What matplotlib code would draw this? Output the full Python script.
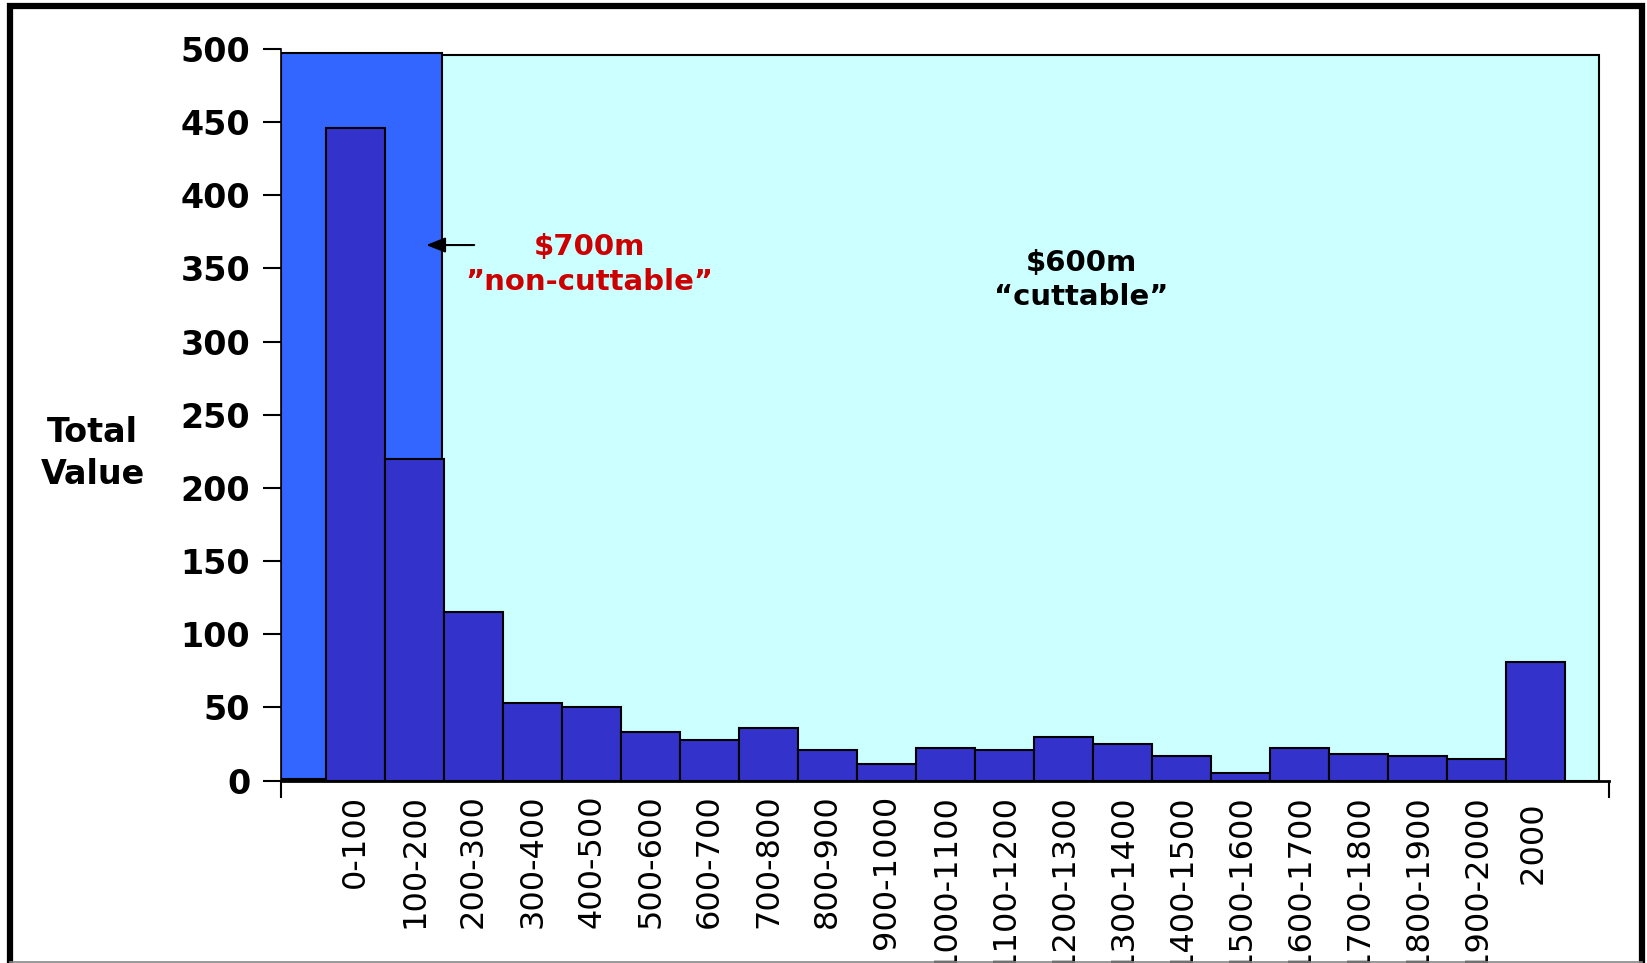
import numpy as np
import matplotlib
matplotlib.use("Agg")
import matplotlib.pyplot as plt
from matplotlib.patches import Rectangle
from matplotlib.lines import Line2D

# Total value per size band
bands = ["0-100", "100-200", "200-300", "300-400", "400-500", "500-600",
         "600-700", "700-800", "800-900", "900-1000", "1000-1100", "1100-1200",
         "1200-1300", "1300-1400", "1400-1500", "1500-1600", "1600-1700",
         "1700-1800", "1800-1900", "1900-2000", "2000 "]
values = [446, 220, 115, 53, 50, 33, 28, 36, 21, 11, 22, 21,
          30, 25, 17, 5, 22, 18, 17, 15, 81]
# small leading band, mostly hidden behind the axis
lead_value = 1

yticks = [0, 50, 100, 150, 200, 250, 300, 350, 400, 450, 500]

W, H = 1647, 963
fig = plt.figure(figsize=(W / 100, H / 100), dpi=100)
fig.patch.set_facecolor("white")

ax = fig.add_axes([280.7 / W, 1 - 780.5 / H, (1609.3 - 280.7) / W, (780.5 - 49) / H])
ax.set_facecolor("none")
x0, x1 = -1.27, 21.25
ax.set_xlim(x0, x1)
ax.set_ylim(0, 500)

# shaded regions: "cuttable" background and "non-cuttable" block
ax.add_patch(Rectangle((x0, 0), 21.08 - x0, 496, facecolor="#CCFFFF",
                       edgecolor="black", lw=1.5, zorder=0))
ax.add_patch(Rectangle((x0, 0), 1.46 - x0, 497, facecolor="#3366FF",
                       edgecolor="black", lw=1.5, zorder=1))

x = np.arange(len(bands))
ax.bar([-1], [lead_value], width=1, color="#3333CC", edgecolor="black", lw=1.5, zorder=2)
ax.bar(x, values, width=1, color="#3333CC", edgecolor="black", lw=1.5, zorder=2)

# spines and ticks
for s in ["top", "right"]:
    ax.spines[s].set_visible(False)
ax.spines["left"].set_linewidth(1.2)
ax.spines["bottom"].set_linewidth(2)
ax.spines["bottom"].set_zorder(3)

ax.set_yticks(yticks)
ax.set_yticklabels([str(v) for v in yticks], fontfamily="DejaVu Sans",
                   fontweight="bold", fontsize=24)
ax.tick_params(axis="y", length=13, width=1.5, pad=9)

ax.set_xticks(x)
ax.set_xticklabels(bands, rotation=90, fontfamily="DejaVu Sans", fontsize=23)
ax.tick_params(axis="x", which="major", length=0, pad=10)
ax.set_xticks([x0, x1], minor=True)
ax.tick_params(axis="x", which="minor", length=12, width=1.5, direction="out")

# annotations
red = "#CC0000"
ax.text(3.96, 359.5, "$700m", color=red, fontsize=21, fontweight="bold",
        fontfamily="DejaVu Sans", ha="center", va="baseline")
ax.text(3.96, 335, "\u201dnon-cuttable\u201d", color=red, fontsize=21, fontweight="bold",
        fontfamily="DejaVu Sans", ha="center", va="baseline")
ax.text(12.3, 348.5, "$600m", color="black", fontsize=21, fontweight="bold",
        fontfamily="DejaVu Sans", ha="center", va="baseline")
ax.text(12.3, 325, "\u201ccuttable\u201d", color="black", fontsize=21, fontweight="bold",
        fontfamily="DejaVu Sans", ha="center", va="baseline")
ax.annotate("", xy=(1.195, 366), xytext=(2.01, 366),
            arrowprops=dict(arrowstyle="-|>,head_length=0.58,head_width=0.23",
                            color="black", lw=1.5, mutation_scale=20,
                            shrinkA=0, shrinkB=0), zorder=4)

# y axis title
fig.text(92.5 / W, 1 - 441.7 / H, "Total", fontsize=24, fontweight="bold",
         fontfamily="DejaVu Sans", ha="center", va="baseline")
fig.text(92.5 / W, 1 - 484 / H, "Value", fontsize=24, fontweight="bold",
         fontfamily="DejaVu Sans", ha="center", va="baseline")

# slide frame
fig.add_artist(Line2D([9.5 / W, 9.5 / W, 1642 / W, 1642 / W], [0, 1 - 6 / H, 1 - 6 / H, 0],
                      transform=fig.transFigure, color="black", lw=4.5,
                      solid_joinstyle="miter"))
fig.add_artist(Line2D([9.5 / W, 1642 / W], [1 - 961.5 / H, 1 - 961.5 / H],
                      transform=fig.transFigure, color="#888888", lw=1.2))

fig.savefig("out.png", dpi=100)
